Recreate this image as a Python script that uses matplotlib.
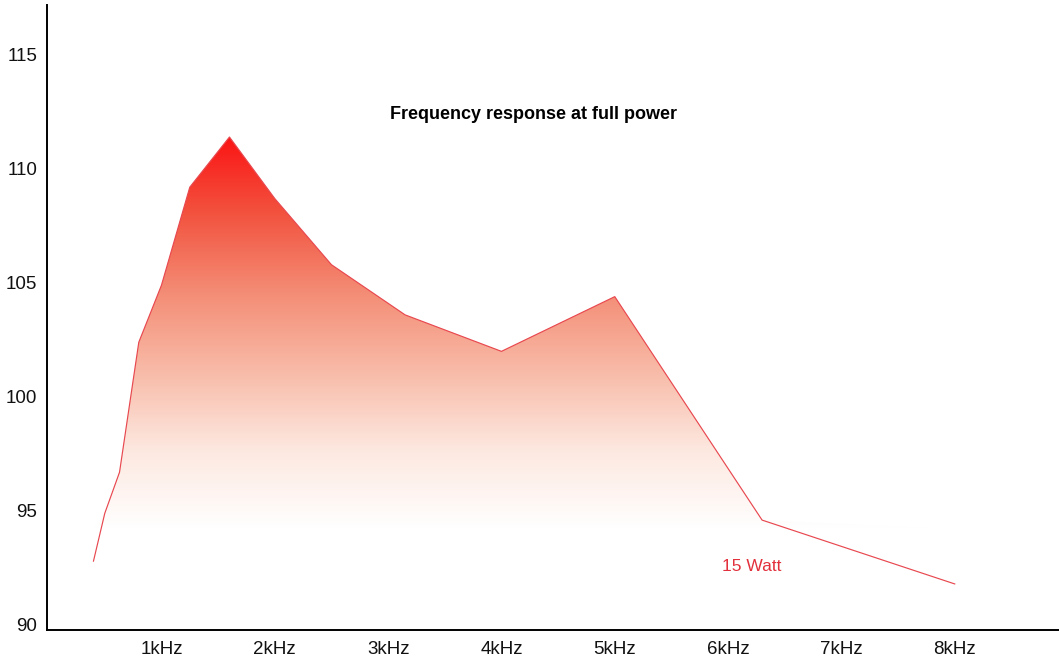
import numpy as np
import matplotlib
matplotlib.use('Agg')
import matplotlib.pyplot as plt
from matplotlib.colors import LinearSegmentedColormap

plt.rcParams['font.family'] = ['Liberation Sans', 'DejaVu Sans']

# 1/3 octave points, kHz and dB
freq_khz = [0.4, 0.5, 0.63, 0.8, 1.0, 1.25, 1.6, 2.0, 2.5, 3.15, 4.0, 5.0, 6.3, 8.0]
level_db = [92.8, 94.9, 96.7, 102.4, 104.9, 109.2, 111.4, 108.7, 105.8, 103.6, 102.0, 104.4, 94.6, 91.8]

x_ticks = [1, 2, 3, 4, 5, 6, 7, 8]
x_labels = ['1kHz', '2kHz', '3kHz', '4kHz', '5kHz', '6kHz', '7kHz', '8kHz']
y_ticks = [90, 95, 100, 105, 110, 115]

fill_floor = 94.2
line_color = '#e8484f'

fig = plt.figure(figsize=(10.59, 6.62), dpi=100)
ax = fig.add_axes([47 / 1059, 1 - 630 / 662, 1 - 47 / 1059, 625 / 662])

x = np.array(freq_khz)
y = np.array(level_db)

# gradient area under the curve
poly = ax.fill_between(x, np.maximum(y, fill_floor), fill_floor, color='none', lw=0)
cmap = LinearSegmentedColormap.from_list('fade', ['#ffffff', '#fde8e0', '#f8bba8', '#f48d76', '#f25440', '#fb1414'])
grad = np.linspace(0, 1, 256).reshape(-1, 1)
img = ax.imshow(grad, cmap=cmap, origin='lower', aspect='auto',
                extent=[x.min(), x.max(), fill_floor, y.max()], zorder=1)
img.set_clip_path(poly.get_paths()[0], transform=ax.transData)

ax.plot(x, y, color=line_color, lw=0.85, zorder=2)

ax.text(6.205, 92.55, '15 Watt', color='#e2303c', fontsize=12.5, ha='center', va='center')
ax.text(4.28, 112.4, 'Frequency response at full power', fontsize=13, fontweight='bold',
        ha='center', va='center')

ax.set_xlim(-0.01, 8.92)
ax.set_ylim(89.78, 117.19)
ax.set_xticks(x_ticks)
ax.set_xticklabels(x_labels)
ax.set_yticks(y_ticks)
ax.tick_params(axis='both', length=0, labelsize=13.5, colors='#111111')
ax.tick_params(axis='x', pad=8)
ax.tick_params(axis='y', pad=7)

for side in ['top', 'right']:
    ax.spines[side].set_visible(False)
for side in ['left', 'bottom']:
    ax.spines[side].set_linewidth(1.4)
    ax.spines[side].set_color('black')

fig.savefig('out.png', dpi=100)
